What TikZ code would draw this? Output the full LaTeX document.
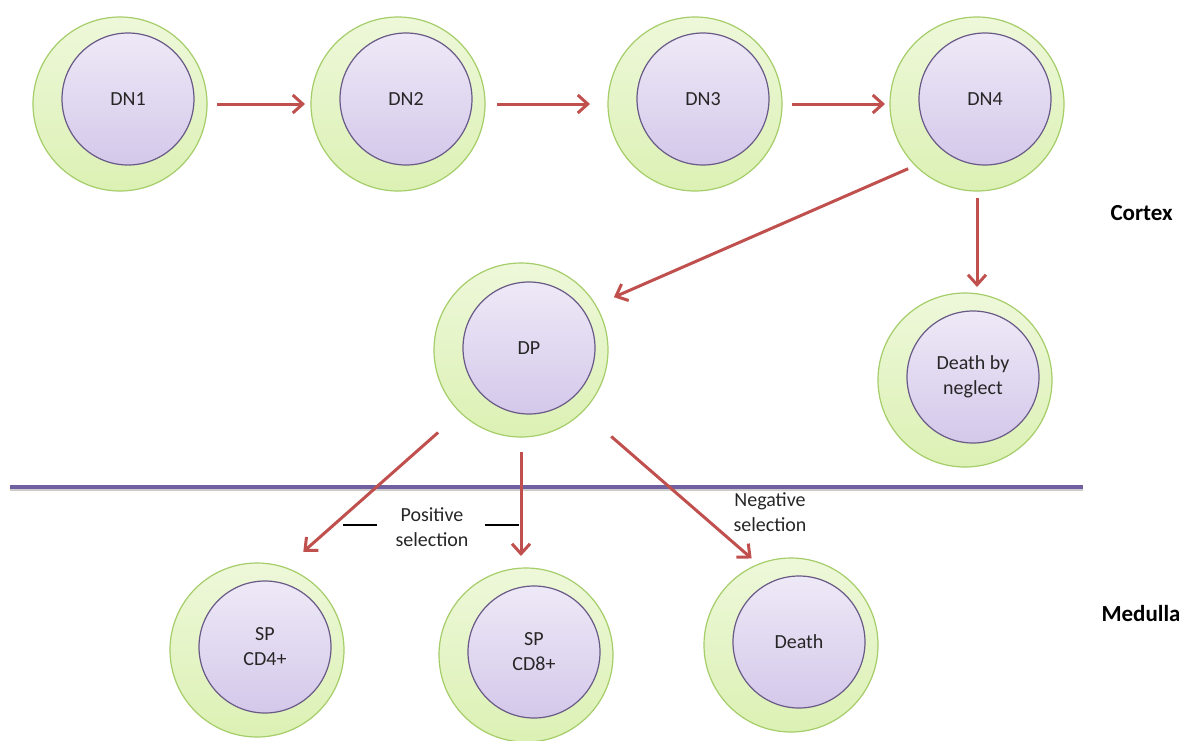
\documentclass[tikz,border=0pt]{standalone}
\usepackage{fontspec}
\setmainfont{Carlito}
\usetikzlibrary{shapes,arrows,arrows.meta,positioning}

\definecolor{cellpale}{RGB}{238,248,218}
\definecolor{cellgreen}{RGB}{220,241,180}
\definecolor{cellrim}{RGB}{165,205,105}
\definecolor{nucleustop}{RGB}{238,233,247}
\definecolor{nucleusbot}{RGB}{212,200,234}
\definecolor{nucleusrim}{RGB}{105,90,135}
\definecolor{movered}{RGB}{192,80,77}
\definecolor{zonepurple}{RGB}{112,96,160}

\begin{document}
\begin{tikzpicture}[x=0.5pt,y=-0.5pt,->,>={Straight Barb[length=5pt,width=9pt]},
                    line width=1.5pt,font=\fontsize{10}{12.5}\selectfont]
  \tikzstyle{cell}=[circle,draw=cellrim,line width=0.6pt,top color=cellpale,
                    bottom color=cellgreen,minimum size=87pt,inner sep=0pt,outer sep=0pt]
  \tikzstyle{nucleus}=[circle,draw=nucleusrim,line width=0.6pt,top color=nucleustop,
                       bottom color=nucleusbot,minimum size=66pt,inner sep=0pt,
                       align=center,text=black!85]
  \tikzstyle{move}=[color=movered]
  \tikzstyle{zone}=[anchor=west,inner sep=0pt,font=\fontsize{11.5}{14}\selectfont\bfseries]
  \tikzstyle{note}=[align=center,text=black!85]

  \useasboundingbox (0,0) rectangle (1179,740);

  % cortex
  \node[cell] (DN1) at (120,104) {};
  \node[nucleus] (DN1n) at ([shift={(4pt,2.5pt)}]DN1.center) {DN1};
  \node[cell] (DN2) at (398,104) {};
  \node[nucleus] (DN2n) at ([shift={(4pt,2.5pt)}]DN2.center) {DN2};
  \node[cell] (DN3) at (695,104) {};
  \node[nucleus] (DN3n) at ([shift={(4pt,2.5pt)}]DN3.center) {DN3};
  \node[cell] (DN4) at (977,104) {};
  \node[nucleus] (DN4n) at ([shift={(4pt,2.5pt)}]DN4.center) {DN4};
  \node[cell] (DP) at (521,350) {};
  \node[nucleus] (DPn) at ([shift={(4pt,1pt)}]DP.center) {DP};
  \node[cell] (DbN) at (965,380) {};
  \node[nucleus] (DbNn) at ([shift={(4pt,1.5pt)}]DbN.center) {Death by\\neglect};

  % medulla
  \node[cell] (SP4) at (257,650) {};
  \node[nucleus] (SP4n) at ([shift={(4pt,1.5pt)}]SP4.center) {SP\\CD4+};
  \node[cell] (SP8) at (526,655) {};
  \node[nucleus] (SP8n) at ([shift={(4pt,1.5pt)}]SP8.center) {SP\\CD8+};
  \node[cell] (Dth) at (791,645) {};
  \node[nucleus] (Dthn) at ([shift={(4pt,1.5pt)}]Dth.center) {Death};

  % border between the zones
  \coordinate (divL) at (10,487);
  \coordinate (divR) at (1083,487);
  \draw[-,black!20,line width=1.5pt] ([yshift=-1.2pt]divL) -- ([yshift=-1.2pt]divR);
  \draw[-,zonepurple,line width=1.6pt] (divL) -- (divR);

  \node[zone] (Cortex) at (1109,213) {Cortex};
  \node[zone] (Medulla) at (1100,614) {Medulla};

  \node[note] (Pos) at (432,527) {Positive\\selection};
  \node[note] (Neg) at (770,512) {Negative\\selection};
  \draw[-,black,line width=0.6pt] ([shift={(-44.5pt,1pt)}]Pos.center) -- ([shift={(-27.5pt,1pt)}]Pos.center);
  \draw[-,black,line width=0.6pt] ([shift={(26.5pt,1pt)}]Pos.center) -- ([shift={(43.5pt,1pt)}]Pos.center);

  \path[move] (DN1) edge [shorten <=5pt,shorten >=3pt] (DN2)
        (DN2) edge [shorten <=6pt,shorten >=9pt] (DN3)
        (DN3) edge [shorten <=5pt,shorten >=2.5pt] (DN4)
        (DN4.225) edge [shorten <=4pt,shorten >=10pt] (DP.31)
        (DN4.south) edge [shorten <=3.5pt,shorten >=3pt] (DN4.south |- DbN.north)
        (DP.226.7) edge [shorten <=15pt,shorten >=12pt] (SP4.71.6)
        (DP.south) edge [shorten <=7.5pt,shorten >=6pt] (DP.south |- SP8.north)
        (DP.315.7) edge [shorten <=19pt,shorten >=4.5pt] (Dth.112)
  ;
\end{tikzpicture}
\end{document}
